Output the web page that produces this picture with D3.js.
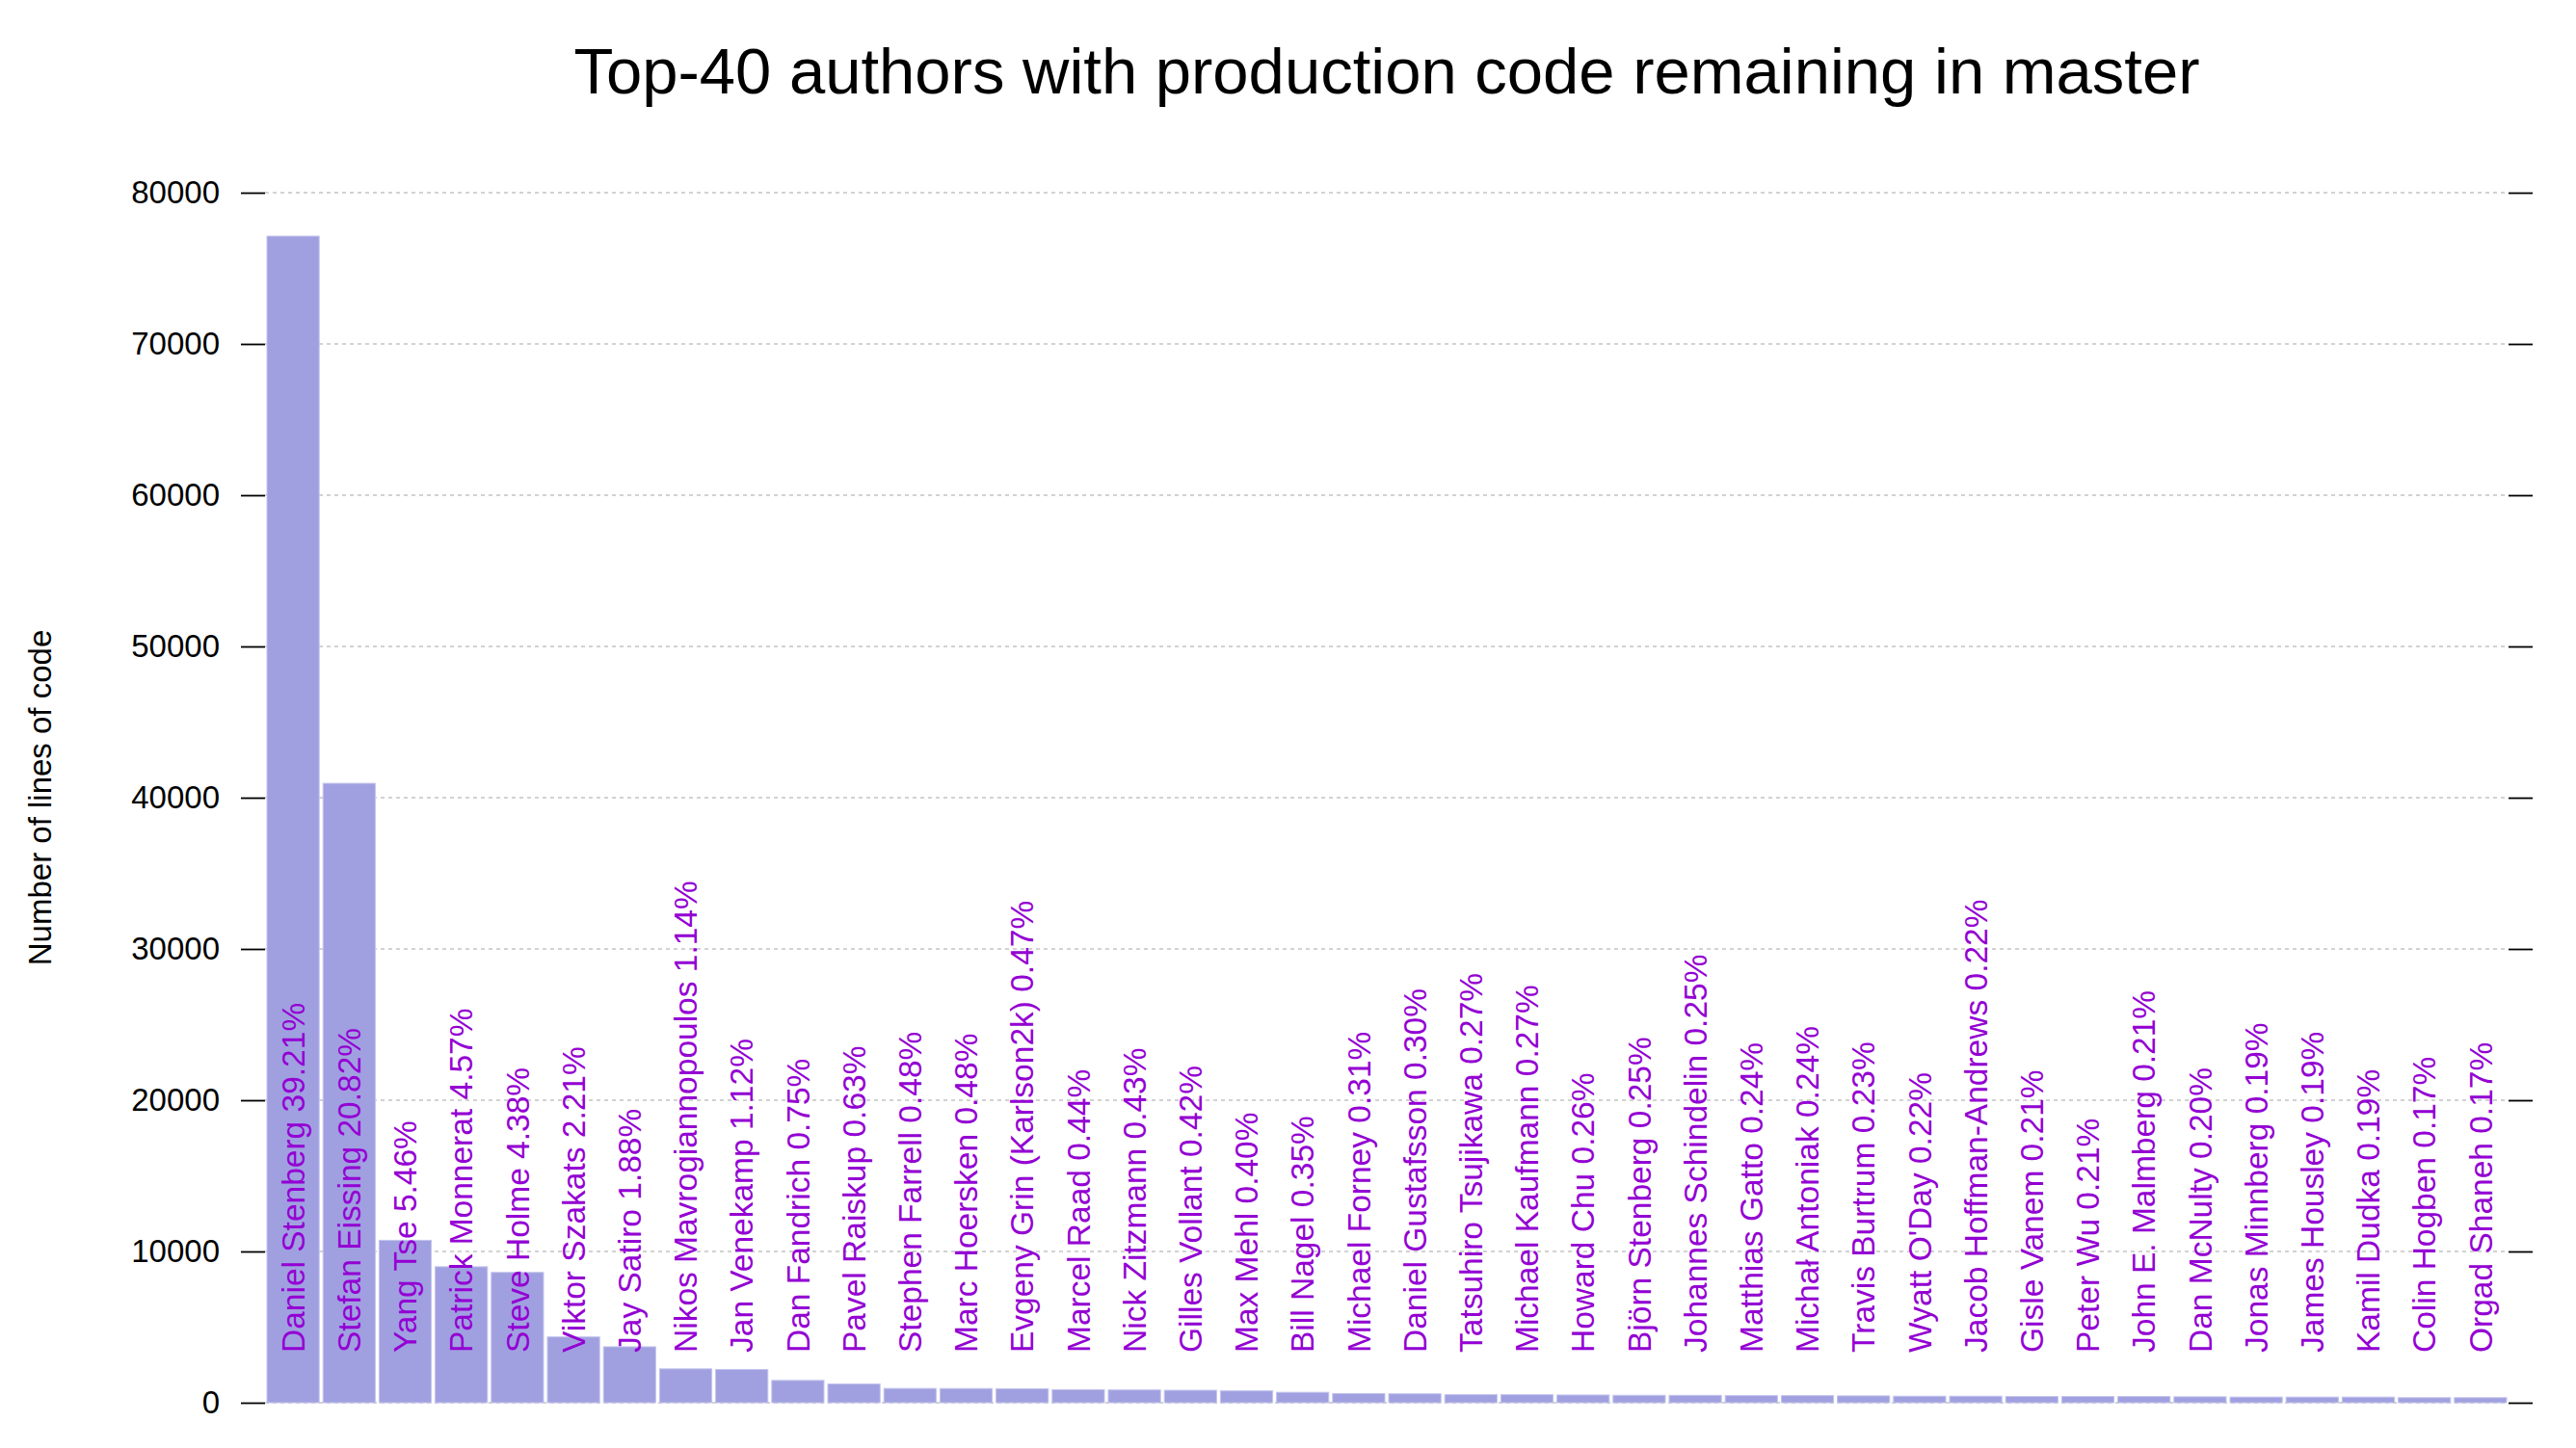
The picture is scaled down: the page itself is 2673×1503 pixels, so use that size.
<!DOCTYPE html>
<html>
<head>
<meta charset="utf-8">
<script src="https://cdn.jsdelivr.net/npm/d3@7"></script>
<style>
  body { margin: 0; background: #fff; }
  svg { display: block; font-family: "Liberation Sans", Arial, sans-serif; }
  .grid line { stroke: #c4c4c4; stroke-width: 1.3; stroke-dasharray: 4,4; }
  .tick-mark { stroke: #000; stroke-width: 1.8; }
</style>
</head>
<body>
<svg width="2673" height="1503"></svg>
<script>
const authors = [
  'Daniel Stenberg', 'Stefan Eissing', 'Yang Tse', 'Patrick Monnerat', 'Steve Holme',
  'Viktor Szakats', 'Jay Satiro', 'Nikos Mavrogiannopoulos', 'Jan Venekamp', 'Dan Fandrich',
  'Pavel Raiskup', 'Stephen Farrell', 'Marc Hoersken', 'Evgeny Grin (Karlson2k)', 'Marcel Raad',
  'Nick Zitzmann', 'Gilles Vollant', 'Max Mehl', 'Bill Nagel', 'Michael Forney',
  'Daniel Gustafsson', 'Tatsuhiro Tsujikawa', 'Michael Kaufmann', 'Howard Chu', 'Björn Stenberg',
  'Johannes Schindelin', 'Matthias Gatto', 'Michał Antoniak', 'Travis Burtrum', "Wyatt O'Day",
  'Jacob Hoffman-Andrews', 'Gisle Vanem', 'Peter Wu', 'John E. Malmberg', 'Dan McNulty',
  'Jonas Minnberg', 'James Housley', 'Kamil Dudka', 'Colin Hogben', 'Orgad Shaneh'
];

const lines = [
  77130, 40950, 10740, 8990, 8615,
  4350, 3700, 2240, 2200, 1475,
  1240, 945, 940, 925, 865,
  845, 825, 785, 690, 610,
  590, 532, 530, 512, 492,
  490, 472, 470, 452, 433,
  432, 414, 413, 412, 393,
  374, 373, 372, 334, 333
];

const shares = [
  '39.21', '20.82', '5.46', '4.57', '4.38',
  '2.21', '1.88', '1.14', '1.12', '0.75',
  '0.63', '0.48', '0.48', '0.47', '0.44',
  '0.43', '0.42', '0.40', '0.35', '0.31',
  '0.30', '0.27', '0.27', '0.26', '0.25',
  '0.25', '0.24', '0.24', '0.23', '0.22',
  '0.22', '0.21', '0.21', '0.21', '0.20',
  '0.19', '0.19', '0.19', '0.17', '0.17'
];

const yTicks = [0, 10000, 20000, 30000, 40000, 50000, 60000, 70000, 80000];

const rows = authors.map((name, i) => ({name, value: lines[i], share: shares[i]}));

const svg = d3.select('svg');
const plotLeft = 275, plotRight = 2603, plotTop = 200, plotBottom = 1456;

const x = d3.scaleBand()
  .domain(authors)
  .range([plotLeft, plotRight])
  .padding(0);

const y = d3.scaleLinear()
  .domain([0, 80000])
  .range([plotBottom, plotTop]);

// title
svg.append('text')
  .attr('x', (plotLeft + plotRight) / 2)
  .attr('y', 97)
  .attr('text-anchor', 'middle')
  .attr('font-size', 67)
  .text('Top-40 authors with production code remaining in master');

// grid
svg.append('g')
  .attr('class', 'grid')
  .selectAll('line')
  .data(yTicks)
  .enter()
  .append('line')
  .attr('x1', plotLeft)
  .attr('x2', plotRight)
  .attr('y1', d => y(d))
  .attr('y2', d => y(d));

// left / right ticks
const axisLeft = svg.append('g')
  .attr('transform', `translate(${plotLeft},0)`)
  .call(d3.axisLeft(y).tickValues(yTicks).tickSize(25).tickPadding(22).tickFormat(d3.format('d')));
const axisRight = svg.append('g')
  .attr('transform', `translate(${plotRight},0)`)
  .call(d3.axisRight(y).tickValues(yTicks).tickSize(25).tickFormat(''));
[axisLeft, axisRight].forEach(a => {
  a.select('.domain').remove();
  a.selectAll('.tick line').attr('class', 'tick-mark');
});
axisLeft.selectAll('.tick text')
  .attr('font-size', 33)
  .attr('font-family', '"Liberation Sans", Arial, sans-serif')
  .attr('fill', '#000');

// y label
svg.append('text')
  .attr('transform', `translate(53,${(plotTop + plotBottom) / 2}) rotate(-90)`)
  .attr('text-anchor', 'middle')
  .attr('font-size', 33)
  .text('Number of lines of code');

// bars
svg.append('g')
  .selectAll('rect')
  .data(rows)
  .enter()
  .append('rect')
  .attr('x', d => x(d.name) + 2)
  .attr('width', x.bandwidth() - 4)
  .attr('y', d => y(d.value))
  .attr('height', d => y(0) - y(d.value))
  .attr('fill', '#a0a0e0')
  .attr('stroke', '#c4c4ee')
  .attr('stroke-width', 1);

// labels
svg.append('g')
  .selectAll('text')
  .data(rows)
  .enter()
  .append('text')
  .attr('transform', d => `translate(${x(d.name) + x.bandwidth() / 2},1404) rotate(-90)`)
  .attr('dy', '0.35em')
  .attr('font-size', 33.5)
  .attr('fill', '#9400d3')
  .text(d => `${d.name} ${d.share}%`);
</script>
</body>
</html>
